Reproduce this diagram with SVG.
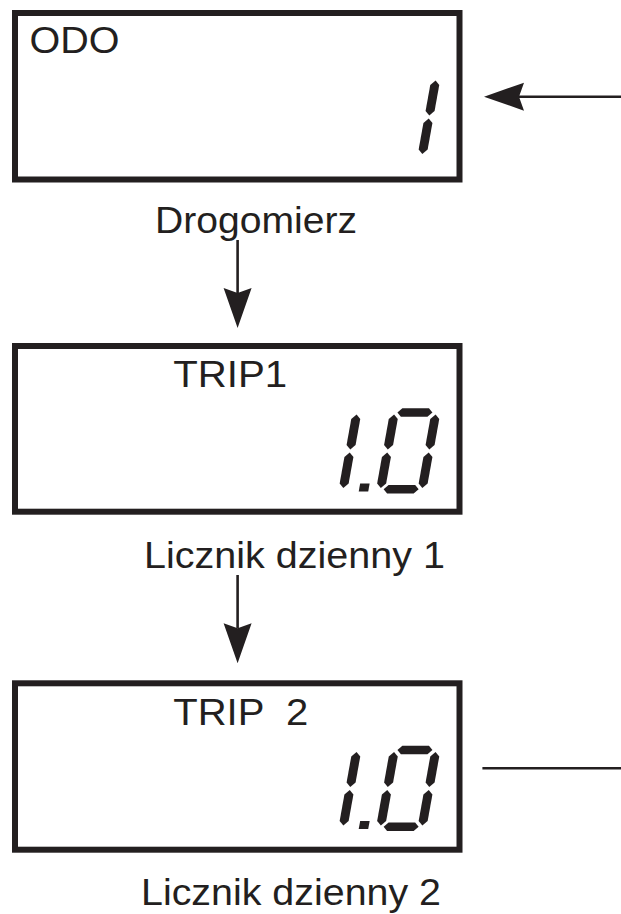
<svg xmlns="http://www.w3.org/2000/svg" xmlns:xlink="http://www.w3.org/1999/xlink" width="621" height="914" viewBox="0 0 621 914">
<style>
  .box { fill: #ffffff; stroke: #231f20; stroke-width: 6; }
  .lbl { font-family: "Liberation Sans", Arial, sans-serif; font-size: 37px; fill: #231f20; white-space: pre; }
  .seg { fill: #231f20; }
  .con { fill: none; stroke: #231f20; stroke-width: 2.6; }
</style>
<defs>
  <marker id="arr" markerUnits="userSpaceOnUse" markerWidth="44" markerHeight="30" refX="5" refY="0" orient="auto" overflow="visible">
    <path d="M40,0 L0,-14 L5,0 L0,14 Z" fill="#231f20"/>
  </marker>
  <g id="seg-bc" class="seg">
    <polygon points="429,-36.5 433.5,-32 433.5,-6 429,-1.5 424.5,-6 424.5,-32"/>
    <polygon points="429,1.5 433.5,6 433.5,32.5 429,37 424.5,32.5 424.5,6"/>
  </g>
  <g id="num-10" class="seg">
    <polygon points="350,-36.5 354.5,-32 354.5,-6 350,-1.5 345.5,-6 345.5,-32"/>
    <polygon points="350,1.5 354.5,6 354.5,32.5 350,37 345.5,32.5 345.5,6"/>
    <rect x="366" y="32.5" width="9.5" height="8"/>
    <polygon points="390.5,-38.5 394.7,-42.7 421.3,-42.7 425.5,-38.5 421.3,-34.3 394.7,-34.3"/>
    <polygon points="390.5,38.2 394.7,34 421.3,34 425.5,38.2 421.3,42.4 394.7,42.4"/>
    <polygon points="387.5,-36.5 392,-32 392,-6 387.5,-1.5 383,-6 383,-32"/>
    <polygon points="387.5,1.5 392,6 392,32.5 387.5,37 383,32.5 383,6"/>
    <use xlink:href="#seg-bc"/>
  </g>
</defs>
<rect width="621" height="914" fill="#ffffff"/>

<g id="odo">
  <rect class="box" x="15" y="13" width="444.5" height="166.5"/>
  <text class="lbl" x="29.5" y="53" textLength="90" lengthAdjust="spacingAndGlyphs">ODO</text>
  <g transform="translate(0,117) skewX(-10.2)"><use xlink:href="#seg-bc"/></g>
</g>
<g id="odo-label">
  <text class="lbl" x="155" y="233" textLength="202" lengthAdjust="spacingAndGlyphs">Drogomierz</text>
</g>

<g id="trip1">
  <rect class="box" x="15" y="346" width="444.5" height="165.7"/>
  <text class="lbl" x="173.2" y="387" textLength="114" lengthAdjust="spacingAndGlyphs">TRIP1</text>
  <g transform="translate(0,451) skewX(-10.2)"><use xlink:href="#num-10"/></g>
</g>
<g id="trip1-label">
  <text class="lbl" x="144" y="568" textLength="301" lengthAdjust="spacingAndGlyphs">Licznik dzienny 1</text>
</g>

<g id="trip2">
  <rect class="box" x="15" y="683.3" width="444.5" height="166.4"/>
  <text class="lbl" x="173.2" y="725" textLength="135" lengthAdjust="spacingAndGlyphs">TRIP  2</text>
  <g transform="translate(0,788.5) skewX(-10.2)"><use xlink:href="#num-10"/></g>
</g>
<g id="trip2-label">
  <text class="lbl" x="141" y="905" textLength="300" lengthAdjust="spacingAndGlyphs">Licznik dzienny 2</text>
</g>

<g id="connectors">
  <line class="con" x1="621" y1="96.7" x2="519" y2="96.7" marker-end="url(#arr)"/>
  <line class="con" x1="237.6" y1="240" x2="237.6" y2="293" marker-end="url(#arr)"/>
  <line class="con" x1="237.6" y1="575" x2="237.6" y2="628.3" marker-end="url(#arr)"/>
  <line class="con" x1="482.4" y1="768.3" x2="621" y2="768.3"/>
</g>
</svg>
